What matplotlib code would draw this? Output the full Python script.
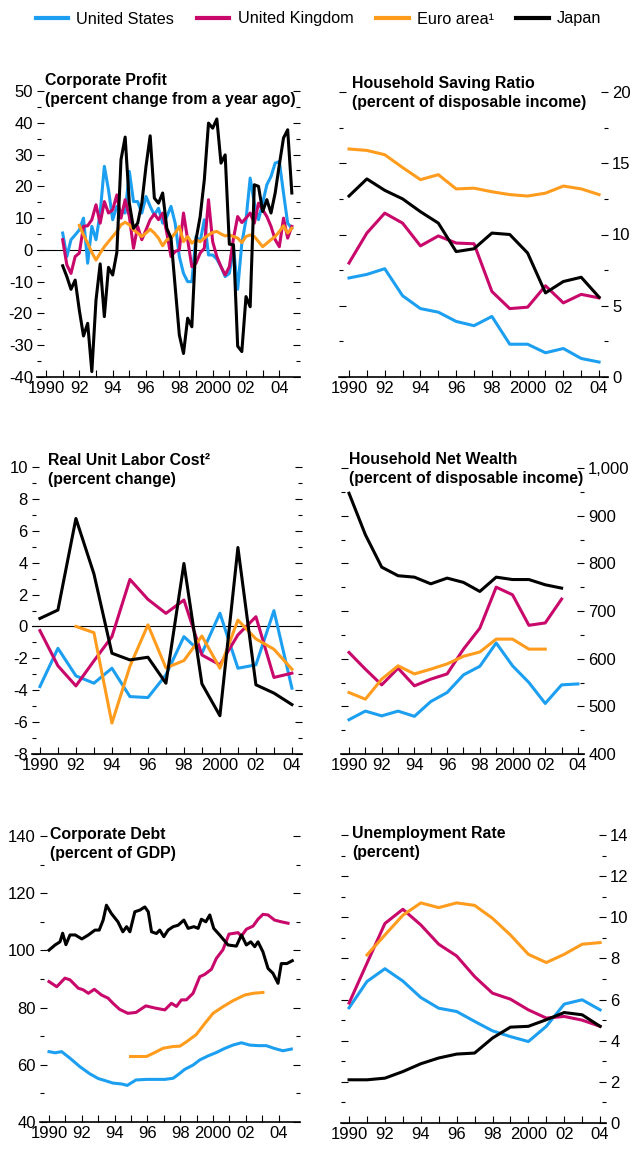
import numpy as np
import matplotlib

matplotlib.use("Agg")
import matplotlib.pyplot as plt
from matplotlib.ticker import MultipleLocator, FuncFormatter

plt.rcParams["font.family"] = ["Liberation Sans", "DejaVu Sans"]
plt.rcParams["axes.unicode_minus"] = False

W, H = 632, 1150

US_C, UK_C, EU_C, JP_C = "#1c9ff0", "#c8086a", "#ff9c1e", "#000000"
SERIES = ["United States", "United Kingdom", "Euro area\u00b9", "Japan"]
COLORS = [US_C, UK_C, EU_C, JP_C]

years = np.arange(1990, 2005)

# Corporate profit, quarterly from 1991Q1 (euro area from 1992Q1)
profit_us = [5.3, -2.1, 3.2, 4.7, 6.3, 10, -4.2, 7.4, 3.2, 11.6,
             26.3, 18.9, 9.5, 13.7, 12.1, 11.6, 24.7, 15.2, 15.2, 11.6,
             16.8, 13.7, 11.0, 13.1, 8.4, 10.5, 13.7, 8.4, -2.1, -7.4,
             -10, -10, 4.2, 2.6, 9.5, -1.6, -1.6, -2.9, -5.3, -8.4,
             -7.4, 0.5, -12.4, 2.1, 9.5, 22.6, 14.7, 9.5, 14.7, 20.5,
             23.1, 27.3, 27.8, 17.9, 8.4, 6.8]
profit_uk = [3.2, -4.7, -7.4, -2.1, -1, 7.4, 7.6, 9.5, 14.2, 8.4,
             15.2, 11.6, 12.6, 17.3, 10, 15.8, 10.5, 0.5, 7.4, 3.2,
             6.3, 9.5, 11.3, 9.5, 11.6, 5.3, -2.1, -0.5, 0, 11.6,
             3.2, -5.3, -4.2, -1, 0.5, 15.8, 2.6, -2.1, -5.3, -7.9,
             -5.3, 3.7, 10.5, 8.6, 10, 11.6, 8.4, 14.7, 12.6, 10.5,
             7.4, 3.2, 1, 10, 3.7, 7.4]
profit_eu = [7.7, 4.7, 2.1, -0.8, -3.2, -1, 1, 2.6, 4.2, 5.8,
             7.9, 8.7, 7.9, 6.3, 5.3, 4.2, 5.3, 6.5, 5.3, 3.7,
             1.3, 3.2, 3.7, 5.3, 7.4, 2.6, 4.2, 2.1, 3.2, 2.6,
             3.7, 4.7, 5.5, 5.8, 5, 4.4, 4.7, 4.2, 3.7, 2.3,
             4.2, 4.7, 4.2, 2.6, 1, 2.1, 3.2, 4.2, 5.8, 7.6,
             5.3, 6.8]
profit_jp = [-5.0, -8.4, -12.4, -9.5, -19, -27.1, -23.1, -38.3, -15.8, -4.4,
             -21, -5.5, -7.9, -0.8, 28.4, 35.5, 14.7, 6.8, 8.4, 14.7,
             26.3, 35.9, 16.3, 14.7, 17.9, 6.8, 3.7, -11.6, -26.8, -32.6,
             -21.5, -24.2, 3.2, 10.5, 22.1, 39.9, 38.3, 41.2, 27.3, 29.9,
             1.8, 1.6, -30.3, -32, -14.7, -17.9, 20.5, 20, 12.1, 15.8,
             11.6, 17.9, 26.8, 35.2, 37.8, 17.9]

# Household saving ratio, 1990-2004
saving_us = [6.95, 7.2, 7.6, 5.7, 4.8, 4.55, 3.9, 3.6, 4.25, 2.3, 2.3, 1.7, 2.0, 1.3, 1.05]
saving_uk = [8.0, 10.1, 11.5, 10.8, 9.2, 9.9, 9.4, 9.35, 6.0, 4.8, 4.9, 6.4, 5.2, 5.8, 5.55]
saving_eu = [16.0, 15.9, 15.6, 14.7, 13.85, 14.2, 13.2, 13.25, 13.0, 12.8, 12.7, 12.9, 13.4, 13.2, 12.8]
saving_jp = [12.7, 13.9, 13.1, 12.5, 11.6, 10.8, 8.8, 9.0, 10.1, 10.0, 8.7, 5.9, 6.7, 7.0, 5.6]

# Real unit labor cost, 1990-2004 (euro area from 1992)
rulc_us = [-3.77, -1.37, -3.1, -3.56, -2.62, -4.4, -4.46, -3.04, -0.64, -1.68, 0.83, -2.62, -2.41, 0.99, -3.87]
rulc_uk = [-0.26, -2.47, -3.73, -2.16, -0.64, 2.95, 1.7, 0.82, 1.66, -1.79, -2.41, -0.53, 0.61, -3.2, -2.93]
rulc_eu = [0.0, -0.39, -6.06, -2.5, 0.1, -2.6, -2.14, -0.6, -2.62, 0.4, -0.78, -1.43, -2.68]
rulc_jp = [0.5, 1.03, 6.77, 3.3, -1.68, -2.1, -1.93, -3.56, 3.95, -3.6, -5.6, 4.95, -3.66, -4.18, -4.9]

# Household net wealth, from 1990
wealth_us = [472, 490, 480, 490, 479, 510, 529, 566, 584, 633, 585, 550, 506, 545, 547]
wealth_uk = [613, 578, 545, 580, 543, 557, 568, 620, 664, 750, 734, 670, 675, 725]
wealth_eu = [529, 515, 557, 585, 568, 578, 589, 605, 614, 641, 641, 620, 620]
wealth_jp = [947, 860, 792, 774, 771, 757, 769, 760, 741, 771, 766, 766, 755, 748]

# Corporate debt, irregular observation dates
debt_jp_x = [1990.0, 1990.37, 1990.67, 1990.83, 1991.03, 1991.28, 1991.6, 1992.0, 1992.4, 1992.8,
             1993.06, 1993.3, 1993.5, 1993.8, 1994.2, 1994.5, 1994.73, 1994.93, 1995.23, 1995.54,
             1995.84, 1996.05, 1996.25, 1996.55, 1996.75, 1997.0, 1997.26, 1997.57, 1997.87, 1998.22,
             1998.48, 1998.83, 1999.09, 1999.29, 1999.56, 1999.8, 2000.04, 2000.4, 2000.91, 2001.42,
             2001.73, 2002.03, 2002.3, 2002.54, 2002.74, 2003.04, 2003.35, 2003.65, 2003.96, 2004.16,
             2004.5, 2004.83]
debt_jp = [100.1, 101.9, 103, 106, 102, 105.4, 105.4, 104, 105.4, 107.1,
           107.1, 110.6, 115.8, 112.9, 110, 106.5, 108.3, 106.5, 113.5, 114.1,
           115.2, 113.5, 106.5, 105.9, 107.1, 104.8, 107.1, 108.3, 108.8, 110.6,
           107.7, 108.3, 107.7, 110.9, 110, 112.4, 107.7, 105.4, 101.9, 101.5,
           105.4, 101.9, 103, 101.3, 103, 99.5, 93.7, 92, 88.5, 95.4,
           95.4, 96.4]
debt_uk_x = [1990.0, 1990.47, 1990.97, 1991.28, 1991.78, 1992.09, 1992.4, 1992.76, 1993.2, 1993.6,
             1993.9, 1994.3, 1994.8, 1995.3, 1995.9, 1996.5, 1997.06, 1997.46, 1997.77, 1998.07,
             1998.37, 1998.78, 1999.19, 1999.49, 1999.9, 2000.2, 2000.6, 2000.97, 2001.52, 2001.73,
             2002.03, 2002.44, 2002.74, 2003.04, 2003.35, 2003.75, 2004.16, 2004.57]
debt_uk = [89.1, 87.3, 90.3, 89.7, 86.8, 86.2, 85, 86.4, 84.4, 83.3,
           81.5, 79.4, 78, 78.3, 80.6, 79.8, 79.2, 81.5, 80.4, 82.7,
           82.7, 85, 90.8, 91.6, 93.4, 97.2, 100.2, 105.7, 106.2, 105,
           107.4, 108.5, 110.9, 112.6, 112.4, 110.6, 110, 109.5]
debt_us_x = [1990.0, 1990.37, 1990.77, 1991.28, 1991.89, 1992.5, 1993.0, 1993.4, 1993.9, 1994.42,
             1994.77, 1995.3, 1995.94, 1996.55, 1997.06, 1997.57, 1997.97, 1998.27, 1998.78, 1999.19,
             1999.69, 2000.2, 2000.7, 2001.21, 2001.73, 2002.23, 2002.74, 2003.24, 2003.75, 2004.26,
             2004.77]
debt_us = [64.6, 64.2, 64.6, 62.3, 59.3, 56.8, 55.2, 54.5, 53.6, 53.3,
           52.8, 54.7, 54.9, 54.9, 54.9, 55.3, 57, 58.4, 59.9, 61.7,
           63.1, 64.3, 65.7, 66.9, 67.7, 66.9, 66.7, 66.7, 65.7, 64.9,
           65.5]
debt_eu_x = [1994.97, 1995.94, 1996.45, 1996.96, 1997.57, 1997.97, 1998.37, 1998.98, 1999.49, 2000.0,
             2000.6, 2001.21, 2001.93, 2002.44, 2003.04]
debt_eu = [62.9, 62.9, 64.3, 65.8, 66.4, 66.5, 68, 70.6, 74.4, 78,
           80.3, 82.4, 84.4, 85, 85.3]

# Unemployment rate, 1990-2004 (euro area from 1991)
unemp_us = [5.6, 6.88, 7.5, 6.9, 6.1, 5.58, 5.42, 4.94, 4.48, 4.2, 3.96, 4.7, 5.78, 5.99, 5.5]
unemp_uk = [5.83, 7.77, 9.7, 10.39, 9.63, 8.69, 8.12, 7.12, 6.31, 6.02, 5.5, 5.1, 5.18, 5.0, 4.7]
unemp_eu = [8.17, 9.14, 10.1, 10.7, 10.47, 10.7, 10.58, 9.95, 9.14, 8.2, 7.8, 8.2, 8.69, 8.77]
unemp_jp = [2.1, 2.1, 2.18, 2.5, 2.88, 3.16, 3.35, 3.4, 4.13, 4.66, 4.7, 5.02, 5.37, 5.26, 4.7]

year_labels = {1990: "1990", 1992: "92", 1994: "94", 1996: "96", 1998: "98",
               2000: "2000", 2002: "02", 2004: "04"}

fig = plt.figure(figsize=(W / 100, H / 100), dpi=100)


def add_panel(left, right, top, bottom):
    return fig.add_axes([left / W, 1 - bottom / H, (right - left) / W, (bottom - top) / H])


def style(ax, xlim, ylim, step, side, fmt="{:.0f}"):
    ax.set_xlim(*xlim)
    ax.set_ylim(*ylim)
    for s in ("left", "right", "top"):
        ax.spines[s].set_visible(False)
    ax.spines["bottom"].set_linewidth(1.2)
    ax.set_xticks(years)
    ax.set_xticklabels([year_labels.get(y, "") for y in years])
    ax.yaxis.set_major_locator(MultipleLocator(step))
    ax.yaxis.set_minor_locator(MultipleLocator(step / 2))
    ax.yaxis.set_major_formatter(FuncFormatter(lambda v, p: fmt.format(v)))
    ax.tick_params(which="both", direction="in", left=True, right=True, top=False,
                   labelleft=(side == "left"), labelright=(side == "right"),
                   width=0.8, labelsize=12, pad=3)
    ax.tick_params(which="major", length=5)
    ax.tick_params(which="minor", length=3)
    ax.patch.set_alpha(0)


def title(x, y, text):
    fig.text(x / W, 1 - y / H, text, ha="left", va="top", fontsize=11.4,
             fontweight="bold", linespacing=1.3)


# Corporate profit
ax = add_panel(37, 300, 91, 377)
q = np.arange(1991, 2004.9, 0.25)
ax.axhline(0, color="black", lw=0.8)
ax.plot(q[:len(profit_us)], profit_us, color=US_C, lw=2.2)
ax.plot(q[:len(profit_uk)], profit_uk, color=UK_C, lw=2.2)
ax.plot(q[4:4 + len(profit_eu)], profit_eu, color=EU_C, lw=2.2)
ax.plot(q[:len(profit_jp)], profit_jp, color=JP_C, lw=2.2)
style(ax, (1989.46, 2005.24), (-40, 50), 10, "left")
title(45, 73, "Corporate Profit\n(percent change from a year ago)")

# Household saving ratio
ax = add_panel(339, 608, 92, 377)
ax.plot(years, saving_us, color=US_C, lw=2.2)
ax.plot(years, saving_uk, color=UK_C, lw=2.2)
ax.plot(years, saving_eu, color=EU_C, lw=2.2)
ax.plot(years, saving_jp, color=JP_C, lw=2.2)
style(ax, (1989.44, 2004.5), (0, 20), 5, "right")
title(352, 76, "Household Saving Ratio\n(percent of disposable income)")

# Real unit labor cost
ax = add_panel(32, 302, 467, 754)
ax.axhline(0, color="black", lw=0.8)
ax.plot(years, rulc_us, color=US_C, lw=2.2)
ax.plot(years, rulc_uk, color=UK_C, lw=2.2)
ax.plot(years[2:], rulc_eu, color=EU_C, lw=2.2)
ax.plot(years, rulc_jp, color=JP_C, lw=2.2)
style(ax, (1989.56, 2004.56), (-8, 10), 2, "left")
title(48, 453, "Real Unit Labor Cost\u00b2\n(percent change)")

# Household net wealth
ax = add_panel(341, 584, 468, 754)
ax.plot(years[:len(wealth_us)], wealth_us, color=US_C, lw=2.2)
ax.plot(years[:len(wealth_uk)], wealth_uk, color=UK_C, lw=2.2)
ax.plot(years[:len(wealth_eu)], wealth_eu, color=EU_C, lw=2.2)
ax.plot(years[:len(wealth_jp)], wealth_jp, color=JP_C, lw=2.2)
style(ax, (1989.51, 2004.37), (400, 1000), 100, "right", fmt="{:,.0f}")
title(349, 452, "Household Net Wealth\n(percent of disposable income)")

# Corporate debt
ax = add_panel(40, 300, 836, 1122)
ax.plot(debt_us_x, debt_us, color=US_C, lw=2.2)
ax.plot(debt_uk_x, debt_uk, color=UK_C, lw=2.2)
ax.plot(debt_eu_x, debt_eu, color=EU_C, lw=2.2)
ax.plot(debt_jp_x, debt_jp, color=JP_C, lw=2.2)
style(ax, (1989.45, 2005.3), (40, 140), 20, "left")
title(50, 827, "Corporate Debt\n(percent of GDP)")

# Unemployment rate
ax = add_panel(341, 606, 835, 1123)
ax.plot(years, unemp_us, color=US_C, lw=2.2)
ax.plot(years, unemp_uk, color=UK_C, lw=2.2)
ax.plot(years[1:], unemp_eu, color=EU_C, lw=2.2)
ax.plot(years, unemp_jp, color=JP_C, lw=2.2)
style(ax, (1989.55, 2004.33), (0, 14), 2, "right")
title(352, 826, "Unemployment Rate\n(percent)")

handles = [plt.Line2D([], [], color=c, lw=3) for c in COLORS]
fig.legend(handles, SERIES, loc="center", bbox_to_anchor=(318.5 / W, 1 - 19 / H), ncol=4,
           frameon=False, fontsize=11.7, handlelength=2.0, handletextpad=0.5,
           columnspacing=1.4)

fig.savefig("out.png", dpi=100)
